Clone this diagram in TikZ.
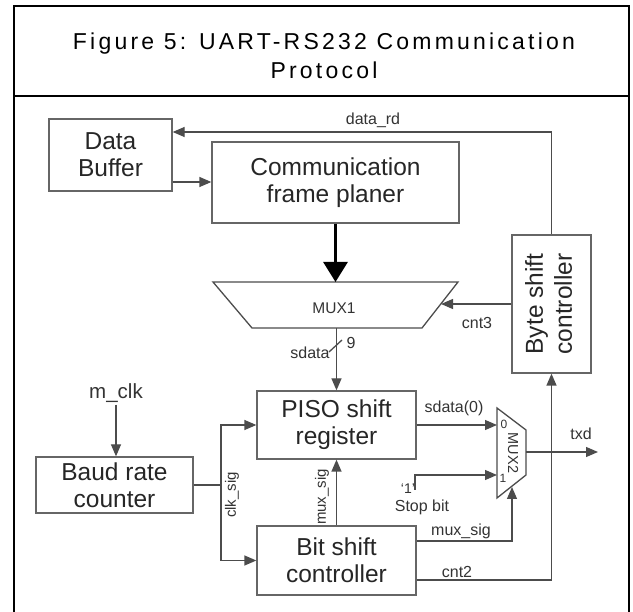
\documentclass[tikz,border=0pt]{standalone}
\usepackage{fontspec}
\setmainfont{Liberation Sans}
\newfontfamily\titlefont[LetterSpace=14]{Liberation Sans}
\usetikzlibrary{arrows.meta}

\begin{document}
\begin{tikzpicture}[x=1pt,y=-1pt,
  block/.style={draw=black!60,line width=1.3pt,align=center,inner sep=0pt,
    text=black!85,font=\fontsize{24.5}{27}\selectfont},
  lbl/.style={inner sep=0pt,text=black!80,font=\fontsize{16}{18}\selectfont},
  wire/.style={draw=black!70,line width=1.3pt},
  arr/.style={wire,-{Triangle[length=12pt,width=10pt]}},
  bigarr/.style={draw=black,line width=3pt,-{Triangle[length=20pt,width=24pt]}}]

\useasboundingbox (0,0) rectangle (633,612);

% Frame and title
\draw[line width=1.5pt] (14,612) -- (14,6) -- (629,6) -- (629,612);
\draw[line width=2pt] (14,96) -- (629,96);
\node[align=center,font=\titlefont\fontsize{23}{29}\selectfont] (title) at (324,55.5)
{Figure 5: UART-RS232 Communication\\Protocol};

% Data buffer and frame planer
\node[block,minimum width=123pt,minimum height=72pt] (buf) at (110.5,155)
{Data\\Buffer};
\node[block,minimum width=247pt,minimum height=81pt] (comm) at (335.5,182.5)
{Communication\\frame planer};

\draw[arr] (buf.east |- 0,182) -- (comm.west |- 0,182);

% Byte shift controller
\node[block,minimum width=79pt,minimum height=138pt] (byte) at (551.5,304)
{\rotatebox{90}{\fontsize{24.5}{29}\selectfont\begin{tabular}{@{}c@{}}Byte shift\\controller\end{tabular}}};

\draw[arr] (byte.north) |- (buf.east |- 0,132);
\node[lbl] (rdlbl) at (373,120) {data\_rd};

% MUX1
\draw[wire] (213,282) coordinate (m1top) -- (458,282) -- (422,328)
  -- (252,328) coordinate (m1bot) -- cycle;
\node[lbl,font=\fontsize{15.5}{17}\selectfont] (mux1) at (334,308) {MUX1};
\coordinate (m1in) at (441,304);

\draw[bigarr] (comm.south) -- (comm.south |- m1top);
\draw[arr] (byte.west |- m1in) -- (m1in);
\node[lbl] (cnt3) at (477,323) {cnt3};

% Baud rate counter
\node[block,minimum width=157pt,minimum height=56pt] (baud) at (114.5,485)
{Baud rate\\counter};
\node[lbl,inner sep=2pt,font=\fontsize{20.5}{22}\selectfont] (mclk) at (116,393) {m\_clk};
\draw[arr] (mclk.south) -- (mclk.south |- baud.north);

% PISO and bit shift controller
\node[block,minimum width=159pt,minimum height=68pt] (piso) at (336.5,425)
{PISO shift\\register};
\node[block,minimum width=159pt,minimum height=69pt] (bit) at (336.5,560.5)
{Bit shift\\controller};

\draw[arr] (piso.north |- m1bot) -- (piso.north);
\draw[wire] (329,352) -- (342,340);
\node[lbl] (sdata) at (310,353) {sdata};
\node[lbl] (nine) at (351,343) {9};

\coordinate (clk) at (221,485);
\draw[wire] (baud.east) -- (clk);
\draw[arr] (clk) |- (piso.west);
\draw[arr] (clk) |- (bit.west);
\node[lbl,rotate=90,font=\fontsize{15}{17}\selectfont] (clklbl) at (232,495) {clk\_sig};

\draw[arr] (bit.north) -- (piso.south);
\node[lbl,rotate=90,font=\fontsize{15}{17}\selectfont] (muxlbl) at (322,497) {mux\_sig};

% MUX2
\draw[wire] (497,408) -- (526,430) -- (526,475) -- (497,498) -- cycle;
\node[lbl,rotate=-90,font=\fontsize{14.5}{16}\selectfont] (mux2) at (513,453) {MUX2};
\node[lbl,font=\fontsize{12}{14}\selectfont] (in0) at (504,424) {0};
\node[lbl,font=\fontsize{12}{14}\selectfont] (in1) at (503,478) {1};
\coordinate (m2a) at (497,425);
\coordinate (m2b) at (497,475);
\coordinate (m2s) at (512,487);
\coordinate (m2o) at (526,452);

\draw[arr] (piso.east) -- (m2a);
\node[lbl] (s0) at (454,408) {sdata(0)};

\coordinate (stop) at (415,490);
\draw[arr] (stop) |- (m2b);
\node[lbl,font=\fontsize{14}{16}\selectfont] (one) at (408,489) {`1'};
\node[lbl,font=\fontsize{16}{18}\selectfont] (stopbit) at (422,507) {Stop bit};

\draw[arr] (bit.east |- 0,541) -| (m2s);
\node[lbl] (sel) at (461,531) {mux\_sig};

\draw[arr] (bit.east |- 0,580) -| (byte.south);
\node[lbl] (cnt2) at (457,572) {cnt2};

\coordinate (txd) at (598,452);
\draw[arr] (m2o) -- (txd);
\node[lbl] (txdlbl) at (581,434) {txd};

\end{tikzpicture}
\end{document}
